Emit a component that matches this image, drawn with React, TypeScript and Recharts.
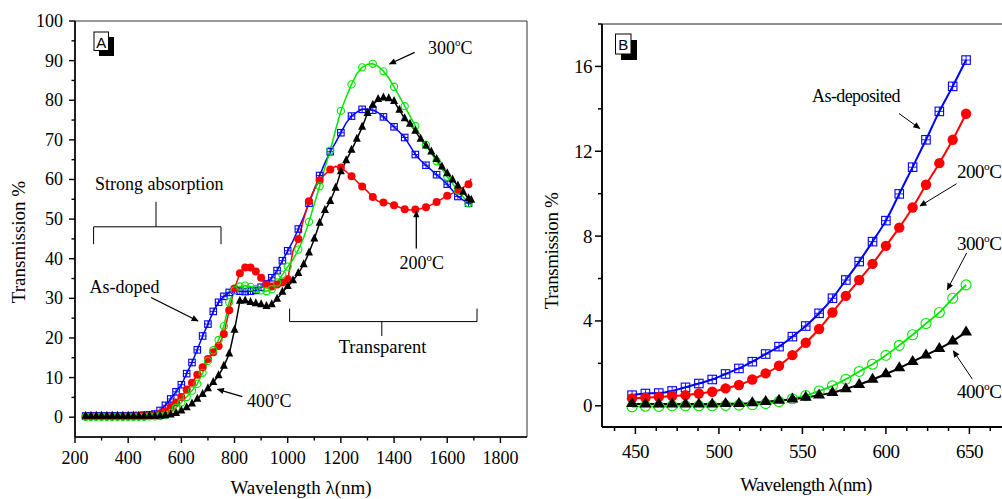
import React from 'react';
import { LineChart, Line, XAxis, YAxis, ReferenceArea } from 'recharts';

const SERIF = '"Liberation Serif", "Times New Roman", serif';
const SANS = '"Liberation Sans", Arial, sans-serif';

// ---------- Panel A data ----------
const wavelengthA = [240, 260, 280, 300, 320, 340, 360, 380, 400, 420, 440, 460, 480,
  500, 520, 540, 560, 580, 600, 620, 640, 660, 680,
  700, 720, 740, 760, 780, 800, 820, 840, 860, 880,
  900, 920, 940, 960, 980, 1000, 1020, 1040, 1060, 1080,
  1100, 1120, 1140, 1160, 1180, 1200, 1220, 1240, 1260, 1280,
  1300, 1320, 1340, 1360, 1380, 1400, 1420, 1440, 1460, 1480,
  1500, 1520, 1540, 1560, 1580, 1600, 1620, 1640, 1660, 1680, 1690];

const asDopedA = [0.3, 0.3, 0.3, 0.3, 0.3, 0.3, 0.3, 0.3, 0.3, 0.4, 0.4, 0.5, 0.6,
  0.8, 1.7, 3, 4.6, 6.4, 8.2, 11, 13.8, 17, 20.5,
  23.5, 26.7, 29, 30.5, 31.5, 32, 31.8, 31.7, 31.8, 32,
  32.8, 33.7, 35.2, 37, 39.5, 42, 44.5, 47.5, 50.5, 54,
  57.5, 61, 64.2, 67, 69.3, 71.8, 74.3, 76, 77, 77.7,
  77.8, 77.5, 76.9, 75.8, 74.5, 73.3, 72, 70.6, 68.5, 66.3,
  64.8, 63.6, 62.4, 61.2, 60.1, 58.8, 57.2, 55.7, 54.8, 54, 53.8];

const t200A = [0.2, 0.2, 0.2, 0.2, 0.2, 0.2, 0.2, 0.2, 0.2, 0.2, 0.3, 0.3, 0.4,
  0.5, 0.9, 1.5, 2.6, 3.7, 5.1, 7, 8.7, 10.7, 12.6,
  14.7, 16.4, 18, 21, 27, 32.5, 36.3, 37.8, 37.8, 36.8,
  35.2, 33.5, 33, 33.5, 34, 34.8, 42, 45, 50, 54.5,
  57.5, 59.8, 61.3, 62.5, 63.3, 63, 62, 60.8, 59.5, 58.2,
  57, 55.6, 54.5, 54.2, 54, 53.5, 53, 52.5, 52.3, 52.4,
  52.6, 53, 53.6, 54.3, 55.1, 55.9, 56.5, 57.3, 58, 58.8, 60.2];

const t300A = [0.1, 0.1, 0.1, 0.1, 0.1, 0.1, 0.1, 0.1, 0.1, 0.1, 0.1, 0.1, 0.2,
  0.2, 0.3, 0.5, 1.1, 2.4, 3.7, 5.1, 6.7, 8.4, 11.2,
  14.2, 16.9, 19.5, 23, 29, 32, 33, 33.2, 32.9, 32.4,
  32, 31.8, 32.3, 34, 36, 38, 39.8, 42.3, 45.3, 49.3,
  53.8, 58.3, 63, 67.3, 72.5, 77.3, 80.8, 84, 86.7, 88.3,
  89.1, 89.2, 88.6, 87.3, 85.6, 83.4, 81, 78.5, 76, 73.5,
  71, 68.7, 66.6, 64.6, 62.6, 60.7, 59, 57.2, 55.6, 54, 53.5];

const t400A = [0.3, 0.3, 0.3, 0.3, 0.3, 0.3, 0.3, 0.3, 0.3, 0.3, 0.3, 0.3, 0.3,
  0.3, 0.3, 0.4, 0.6, 1.0, 1.6, 2.4, 3.4, 4.6, 5.8,
  7.2, 8.8, 10.5, 12.9, 16, 22, 29.3, 29.4, 29, 28.7,
  28.4, 28, 28.4, 29.8, 31.6, 33, 34.5, 36.3, 38.5, 41.5,
  45, 49, 52.2, 54.5, 57.8, 62, 64.8, 67.4, 70.2, 73.2,
  76.7, 78.8, 80.2, 80.6, 80.4, 79.7, 77.5, 75.4, 74, 72.2,
  70.2, 68.5, 67, 65.1, 63.2, 61.5, 59.9, 58.4, 56.8, 55.2, 54.8];

const ticksXA = [200, 300, 400, 500, 600, 700, 800, 900, 1000, 1100, 1200, 1300, 1400, 1500, 1600, 1700, 1800];
const ticksYA = [0, 5, 10, 15, 20, 25, 30, 35, 40, 45, 50, 55, 60, 65, 70, 75, 80, 85, 90, 95, 100];

// ---------- Panel B data ----------
const wavelengthB = [448, 456, 464, 472, 480, 488, 496, 504, 512, 520,
  528, 536, 544, 552, 560, 568, 576, 584, 592, 600,
  608, 616, 624, 632, 640, 648];
const asDepB = [0.5, 0.58, 0.6, 0.7, 0.87, 1.05, 1.24, 1.5, 1.76, 2.08,
  2.44, 2.79, 3.26, 3.76, 4.36, 5.07, 5.93, 6.8, 7.74, 8.73,
  9.99, 11.25, 12.54, 13.88, 15.06, 16.3];
const t200B = [0.35, 0.38, 0.42, 0.46, 0.5, 0.58, 0.66, 0.82, 0.98, 1.24,
  1.53, 1.89, 2.39, 2.97, 3.62, 4.4, 5.18, 5.93, 6.69, 7.54,
  8.4, 9.35, 10.42, 11.44, 12.54, 13.77];
const t300B = [-0.05, -0.02, -0.03, 0, 0, 0, 0, 0.02, 0.03, 0.05,
  0.1, 0.2, 0.33, 0.48, 0.7, 0.94, 1.25, 1.62, 1.96, 2.38,
  2.85, 3.35, 3.88, 4.4, 5.07, 5.7];
const t400B = [0.1, 0.08, 0.08, 0.08, 0.08, 0.08, 0.08, 0.1, 0.1, 0.14,
  0.19, 0.25, 0.31, 0.4, 0.5, 0.62, 0.8, 1.0, 1.24, 1.5,
  1.78, 2.08, 2.39, 2.69, 3.05, 3.47];

const ticksXB = [437.5, 450, 462.5, 475, 487.5, 500, 512.5, 525, 537.5, 550, 562.5, 575, 587.5, 600, 612.5, 625, 637.5, 650, 662.5, 675];
const ticksYB = [0, 2, 4, 6, 8, 10, 12, 14, 16, 18];

const BLUE = '#0000ff';
const RED = '#ff0000';
const GREEN = '#00e600';
const BLACK = '#000000';

const rowsA = wavelengthA.map((x, i) => ({ x, asDoped: asDopedA[i], t200: t200A[i], t300: t300A[i], t400: t400A[i] }));
const rowsB = wavelengthB.map((x, i) => ({ x, asDep: asDepB[i], t200: t200B[i], t300: t300B[i], t400: t400B[i] }));

// marker thinning for panel A (sparser markers in the long-wavelength part)
const showA = (x: number, index: number) => x <= 1000 || index % 2 === 0;

const squareDot = (color: string, size: number, thin: boolean) => (p: any) => {
  const { cx, cy, index, payload } = p;
  if (cx == null || cy == null || (thin && !showA(payload.x, index))) return <g key={`sq${index}`} />;
  const h = size / 2;
  return (
    <g key={`sq${index}`}>
      <rect x={cx - h} y={cy - h} width={size} height={size} fill="none" stroke={color} strokeWidth={1.1} />
      <line x1={cx} x2={cx} y1={cy - h} y2={cy + h} stroke={color} strokeWidth={0.9} />
      <line x1={cx - h} x2={cx + h} y1={cy} y2={cy} stroke={color} strokeWidth={0.9} />
    </g>
  );
};

const circleDot = (color: string, r: number, filled: boolean, thin: boolean) => (p: any) => {
  const { cx, cy, index, payload } = p;
  if (cx == null || cy == null || (thin && !showA(payload.x, index))) return <g key={`c${index}`} />;
  return (
    <circle key={`c${index}`} cx={cx} cy={cy} r={r} fill={filled ? color : 'none'} stroke={color} strokeWidth={filled ? 0 : 1.1} />
  );
};

const triDot = (color: string, w: number, hgt: number, thin: boolean) => (p: any) => {
  const { cx, cy, index, payload } = p;
  if (cx == null || cy == null || (thin && !showA(payload.x, index))) return <g key={`t${index}`} />;
  const top = cy - (2 * hgt) / 3;
  const bot = cy + hgt / 3;
  return <path key={`t${index}`} d={`M${cx},${top} L${cx + w / 2},${bot} L${cx - w / 2},${bot} Z`} fill={color} />;
};

// ---------- ticks ----------
const XTickA = (p: any) => {
  const { x, y, payload } = p;
  const v = payload.value;
  const major = v % 200 === 0;
  return (
    <g>
      <line x1={x} x2={x} y1={y} y2={y + (major ? 6 : 3.5)} stroke="#000" strokeWidth={1.4} />
      {major && (
        <text x={x} y={y + 27} textAnchor="middle" fontFamily={SERIF} fontSize={18} fill="#000">{v}</text>
      )}
    </g>
  );
};
const YTickA = (p: any) => {
  const { x, y, payload } = p;
  const v = payload.value;
  const major = v % 10 === 0;
  return (
    <g>
      <line x1={x} x2={x - (major ? 6 : 3.5)} y1={y} y2={y} stroke="#000" strokeWidth={1.4} />
      {major && (
        <text x={x - 12} y={y + 6} textAnchor="end" fontFamily={SERIF} fontSize={18} fill="#000">{v}</text>
      )}
    </g>
  );
};
const XTickB = (p: any) => {
  const { x, y, payload } = p;
  const v = payload.value;
  const major = v % 50 === 0;
  return (
    <g>
      <line x1={x} x2={x} y1={y} y2={y + (major ? 7 : 4)} stroke="#000" strokeWidth={1.5} />
      {major && (
        <text x={x} y={y + 31} textAnchor="middle" fontFamily={SERIF} fontSize={19} letterSpacing={-0.5} fill="#000">{v}</text>
      )}
    </g>
  );
};
const YTickB = (p: any) => {
  const { x, y, payload } = p;
  const v = payload.value;
  const major = v % 4 === 0;
  return (
    <g>
      <line x1={x} x2={x - (major ? 7 : 4)} y1={y} y2={y} stroke="#000" strokeWidth={1.5} />
      {major && (
        <text x={x - 10} y={y + 6.5} textAnchor="end" fontFamily={SERIF} fontSize={19} letterSpacing={-0.5} fill="#000">{v}</text>
      )}
    </g>
  );
};

const Deg = ({ x, y, t, size, anchor = 'start', ls = 0 }: any) => (
  <text x={x} y={y} fontFamily={SERIF} fontSize={size} textAnchor={anchor} letterSpacing={ls} fill="#000">
    {t}
    <tspan fontSize={size * 0.6} dy={-size * 0.42}>o</tspan>
    <tspan dy={size * 0.42}>C</tspan>
  </text>
);

const Arrow = ({ x1, y1, x2, y2, w = 1.3 }: any) => (
  <line x1={x1} y1={y1} x2={x2} y2={y2} stroke="#000" strokeWidth={w} markerEnd="url(#ah)" />
);

export default function App() {
  return (
    <div style={{ position: 'absolute', left: 0, top: 0, width: 1002, height: 499, overflow: 'hidden', background: '#fff' }}>
      {/* Panel A */}
      <div style={{ position: 'absolute', left: 0, top: 0 }}>
        <LineChart width={560} height={499} data={rowsA} margin={{ top: 21, right: 33, bottom: 22, left: 15 }}>
          <XAxis type="number" dataKey="x" domain={[200, 1900]} ticks={ticksXA} interval={0}
            tickLine={false} tickSize={0} tickMargin={0} height={40} allowDataOverflow
            axisLine={{ stroke: '#000', strokeWidth: 1.6 }} tick={(p: any) => <XTickA {...p} />} />
          <YAxis type="number" domain={[-5, 100]} ticks={ticksYA} interval={0}
            tickLine={false} tickSize={0} tickMargin={0} width={60} allowDataOverflow
            axisLine={{ stroke: '#000', strokeWidth: 1.6 }} tick={(p: any) => <YTickA {...p} />} />
          <ReferenceArea x1={200} x2={1900} y1={-5} y2={100} fill="none" stroke="#333" strokeWidth={1} />
          <Line type="linear" dataKey="asDoped" stroke={BLUE} strokeWidth={1.5} dot={squareDot(BLUE, 6.5, true)} activeDot={false} isAnimationActive={false} />
          <Line type="linear" dataKey="t200" stroke={RED} strokeWidth={1.5} dot={circleDot(RED, 4, true, true)} activeDot={false} isAnimationActive={false} />
          <Line type="linear" dataKey="t300" stroke={GREEN} strokeWidth={1.5} dot={circleDot(GREEN, 3.6, false, true)} activeDot={false} isAnimationActive={false} />
          <Line type="linear" dataKey="t400" stroke={BLACK} strokeWidth={1.5} dot={triDot(BLACK, 8, 8, false)} activeDot={false} isAnimationActive={false} />
        </LineChart>
      </div>

      {/* Panel B */}
      <div style={{ position: 'absolute', left: 540, top: 0 }}>
        <LineChart width={500} height={499} data={rowsB} margin={{ top: 24, right: 20.5, bottom: 22, left: 12 }}>
          <XAxis type="number" dataKey="x" domain={[430, 680]} ticks={ticksXB} interval={0}
            tickLine={false} tickSize={0} tickMargin={0} height={50} allowDataOverflow
            axisLine={{ stroke: '#000', strokeWidth: 1.8 }} tick={(p: any) => <XTickB {...p} />} />
          <YAxis type="number" domain={[-1, 18]} ticks={ticksYB} interval={0}
            tickLine={false} tickSize={0} tickMargin={0} width={50} allowDataOverflow
            axisLine={{ stroke: '#000', strokeWidth: 1.8 }} tick={(p: any) => <YTickB {...p} />} />
          <ReferenceArea x1={430} x2={680} y1={-1} y2={18} fill="none" stroke="#222" strokeWidth={1} />
          <Line type="monotone" dataKey="asDep" stroke={BLUE} strokeWidth={2} dot={squareDot(BLUE, 8.5, false)} activeDot={false} isAnimationActive={false} />
          <Line type="monotone" dataKey="t200" stroke={RED} strokeWidth={2} dot={circleDot(RED, 5.2, true, false)} activeDot={false} isAnimationActive={false} />
          <Line type="monotone" dataKey="t300" stroke={GREEN} strokeWidth={1.8} dot={circleDot(GREEN, 5, false, false)} activeDot={false} isAnimationActive={false} />
          <Line type="monotone" dataKey="t400" stroke={BLACK} strokeWidth={2} dot={triDot(BLACK, 12, 10, false)} activeDot={false} isAnimationActive={false} />
        </LineChart>
      </div>

      {/* Annotations */}
      <svg width={1002} height={499} style={{ position: 'absolute', left: 0, top: 0, pointerEvents: 'none' }}>
        <defs>
          <marker id="ah" viewBox="0 0 10 10" refX="9" refY="5" markerWidth="9" markerHeight="7"
            orient="auto" markerUnits="userSpaceOnUse">
            <path d="M0,0.5 L10,5 L0,9.5 z" fill="#000" />
          </marker>
        </defs>

        {/* Panel A axis titles */}
        <text x={301} y={494} textAnchor="middle" fontFamily={SERIF} fontSize={19} fill="#000">Wavelength λ(nm)</text>
        <text x={25} y={242} transform="rotate(-90 25 242)" textAnchor="middle" fontFamily={SERIF} fontSize={19} fill="#000">Transmission %</text>

        {/* A label box */}
        <rect x={99} y={37} width={15} height={19} fill="#000" />
        <rect x={94} y={32} width={14.5} height={18.5} fill="#fff" stroke="#000" strokeWidth={1} />
        <text x={101.3} y={47.5} textAnchor="middle" fontFamily={SANS} fontSize={15} fill="#000">A</text>

        {/* Panel A annotations */}
        <Deg x={428} y={54} t="300" size={18} />
        <Arrow x1={414.6} y1={52.4} x2={389.5} y2={64} />
        <text x={95} y={190} fontFamily={SERIF} fontSize={18} fill="#000">Strong absorption</text>
        <path d="M93.6,244.2 L93.6,226.8 L221,226.8 L221,244.2 M156,226.8 L156,201.8" fill="none" stroke="#000" strokeWidth={1} />
        <text x={124.5} y={293} textAnchor="middle" fontFamily={SERIF} fontSize={18} fill="#000">As-doped</text>
        <Arrow x1={151} y1={297.5} x2={198} y2={321} />
        <Deg x={247} y={407} t="400" size={18} />
        <Arrow x1={242.3} y1={396.6} x2={217.5} y2={389.3} />
        <Deg x={399.5} y={268.5} t="200" size={18} />
        <Arrow x1={416.3} y1={248.5} x2={416.3} y2={211} />
        <text x={382.5} y={352.5} textAnchor="middle" fontFamily={SERIF} fontSize={18.5} fill="#000">Transparent</text>
        <path d="M289.6,308.6 L289.6,321.6 L477,321.6 L477,308.6 M381.8,321.6 L381.8,336" fill="none" stroke="#000" strokeWidth={1} />

        {/* Panel B axis titles */}
        <text x={806} y={491} textAnchor="middle" fontFamily={SERIF} fontSize={19} letterSpacing={-0.6} fill="#000">Wavelength λ(nm)</text>
        <text x={557.5} y={251} transform="rotate(-90 557.5 251)" textAnchor="middle" fontFamily={SERIF} fontSize={19} letterSpacing={-0.4} fill="#000">Transmission %</text>

        {/* B label box */}
        <rect x={621} y={40} width={16} height={20} fill="#000" />
        <rect x={615.5} y={34} width={15.5} height={20} fill="#fff" stroke="#000" strokeWidth={1} />
        <text x={623.3} y={50} textAnchor="middle" fontFamily={SANS} fontSize={15} fill="#000">B</text>

        {/* Panel B annotations */}
        <text x={856} y={101.5} textAnchor="middle" fontFamily={SERIF} fontSize={18} letterSpacing={-0.6} fill="#000">As-deposited</text>
        <Arrow x1={899} y1={113.5} x2={919.8} y2={128.5} w={1} />
        <Deg x={957} y={178} t="200" size={19} ls={-0.5} />
        <Arrow x1={956.6} y1={183.7} x2={920} y2={206} w={1} />
        <Deg x={957} y={250} t="300" size={19} ls={-0.5} />
        <Arrow x1={966.7} y1={252.9} x2={947.3} y2={289.6} w={1} />
        <Deg x={957} y={398} t="400" size={19} ls={-0.5} />
        <Arrow x1={972.4} y1={379.2} x2={953.3} y2={350.8} w={1} />
      </svg>
    </div>
  );
}
